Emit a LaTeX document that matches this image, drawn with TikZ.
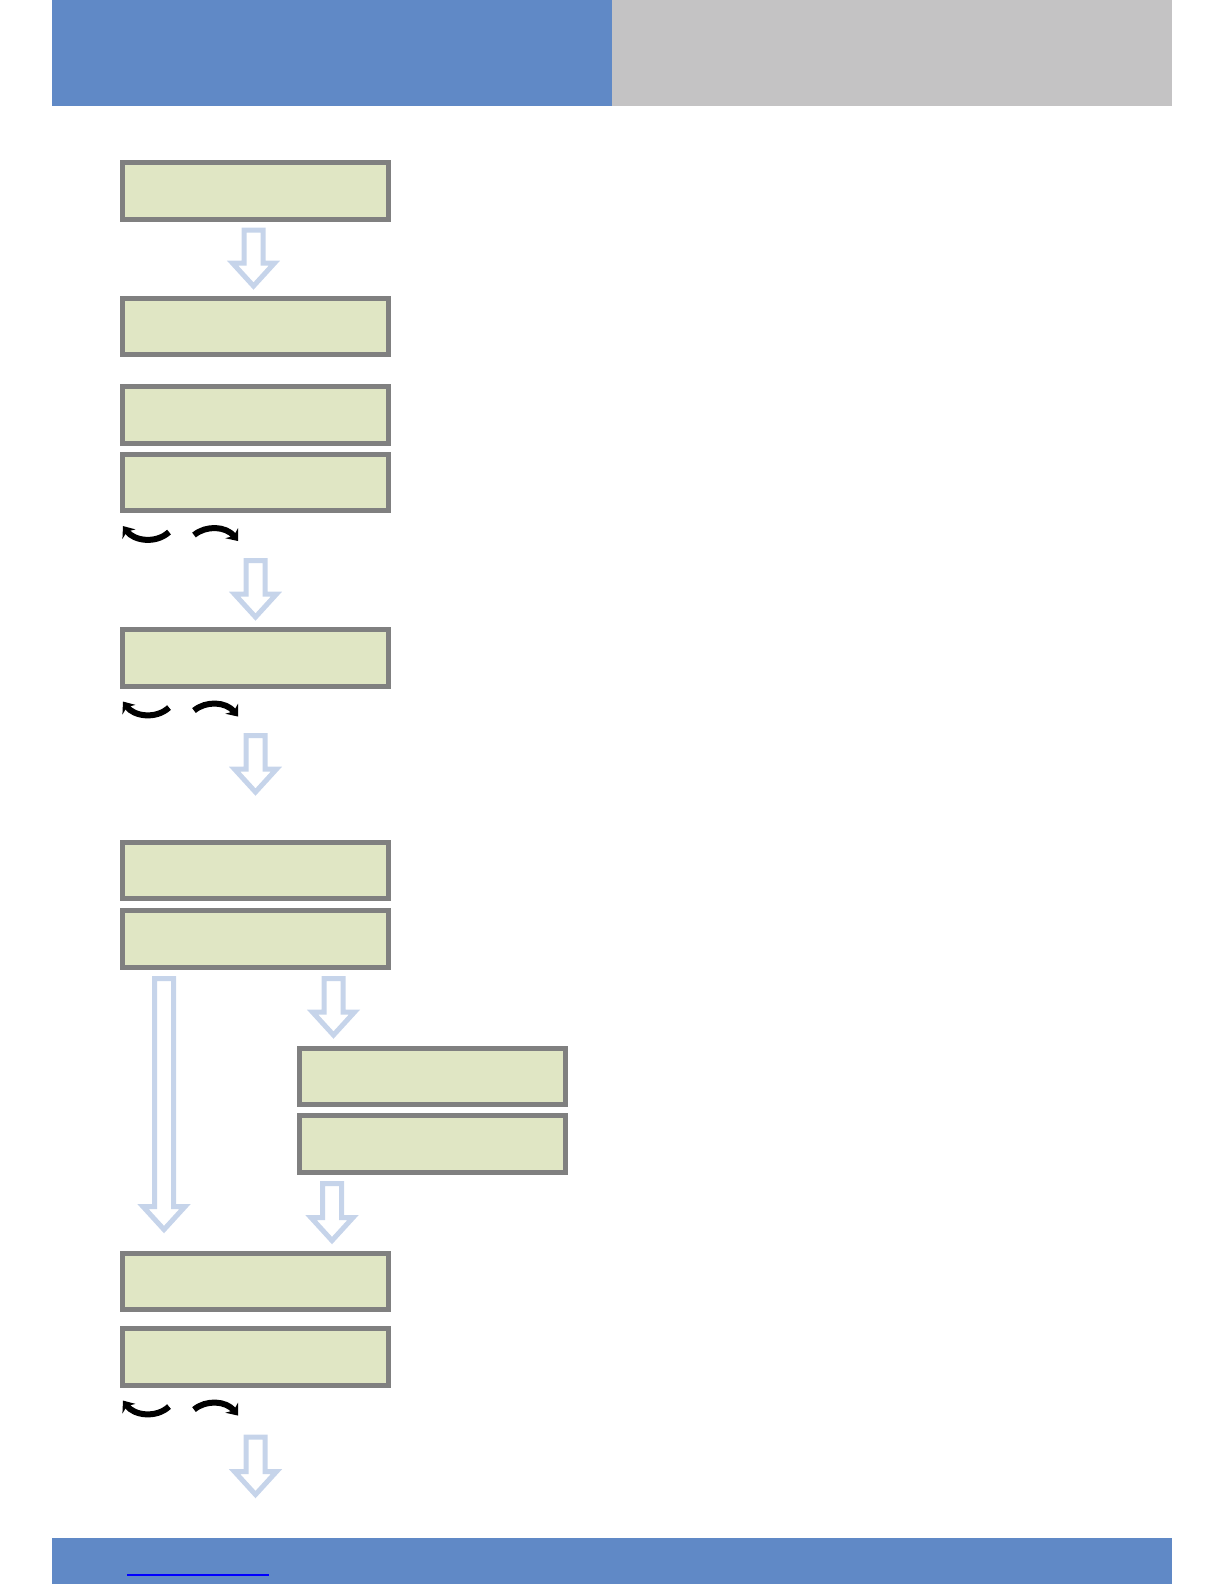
\documentclass[tikz,border=0pt]{standalone}
\usepackage{tikz}
\usetikzlibrary{arrows.meta, positioning, calc}

\definecolor{headblue}{RGB}{96,137,198}
\definecolor{headgray}{RGB}{196,195,196}
\definecolor{boxfill}{RGB}{224,230,196}
\definecolor{boxline}{RGB}{128,128,128}
\definecolor{arrowblue}{RGB}{198,212,234}

\begin{document}
\begin{tikzpicture}[
    node distance=3pt,
    box/.style={rectangle, draw=boxline, fill=boxfill, line width=2.5pt, minimum width=133pt, minimum height=28.25pt, inner sep=0pt},
    hollow/.style={draw=arrowblue, fill=white, line width=2.5pt, line join=miter,
        to path={let \p1=(\tikztostart), \p2=(\tikztotarget) in
            (\x1-4.75pt,\y1-1.25pt) -- (\x1-4.75pt,\y2+13.5pt) -- (\x1-10.5pt,\y2+13.5pt)
            -- (\x1,\y2+2pt) -- (\x1+10.5pt,\y2+13.5pt) -- (\x1+4.75pt,\y2+13.5pt)
            -- (\x1+4.75pt,\y1-1.25pt) -- cycle}},
    twist/.style={line width=3pt, -{Stealth[length=5pt, width=8pt]}},
    pics/twistpair/.style={code={
        \draw[twist] (24.5pt,-9.5pt) .. controls (18pt,-15.5pt) and (7pt,-14pt) .. (1.5pt,-6.5pt);
        \draw[twist] (37pt,-11pt) .. controls (43pt,-6pt) and (53pt,-6.5pt) .. (59pt,-14pt);
    }}
]
\useasboundingbox (0,0) rectangle (612pt,-792pt);

% Header and footer bands
\fill[headblue] (26pt,0) rectangle (306pt,-53pt);
\fill[headgray] (306pt,0) rectangle (585.75pt,-53pt);
\fill[headblue] (26pt,-769pt) rectangle (585.75pt,-792pt);
\draw[blue, line width=0.6pt] (63.5pt,-787.5pt) -- (134.5pt,-787.5pt);

% Upper chain
\node (b1) [box] at (127.75pt,-95.4pt) {};
\node (b2) [box, below=37pt of b1] {};
\node (b3) [box, below=13.5pt of b2] {};
\node (b4) [box, below=of b3] {};
\node (b5) [box, below=57pt of b4] {};

% Middle pair and side branch
\node (b6) [box, below=75.5pt of b5] {};
\node (b7) [box, below=3.5pt of b6] {};
\node (b8) [box, below=38pt of b7, xshift=88.5pt] {};
\node (b9) [box, below=of b8] {};

% Lower pair
\node (b10) [box, below=38pt of b9, xshift=-88.5pt] {};
\node (b11) [box, below=7pt of b10] {};
\coordinate [below=55.5pt of b11] (out);

% Swap marks
\pic at (b4.south west) {twistpair};
\pic at (b5.south west) {twistpair};
\pic at (b11.south west) {twistpair};

% Block arrows
\draw [hollow] ([xshift=-1pt, yshift=-3pt]b1.south) to ([yshift=2.75pt]b2.north);
\draw [hollow] ([yshift=-22.5pt]b4.south) to ([yshift=3pt]b5.north);
\draw [hollow] ([yshift=-22.25pt]b5.south) to ([yshift=21.75pt]b6.north);
\draw [hollow] ([xshift=-45.75pt, yshift=-3.25pt]b7.south) to ([yshift=8.5pt]b10.north);
\draw [hollow] ([xshift=39pt, yshift=-3.25pt]b7.south) to ([yshift=3.25pt]b8.north);
\draw [hollow] ([xshift=-50.25pt, yshift=-3.25pt]b9.south) to ([yshift=3pt]b10.north);
\draw [hollow] ([yshift=-23.5pt]b11.south) to (out);

\end{tikzpicture}
\end{document}
